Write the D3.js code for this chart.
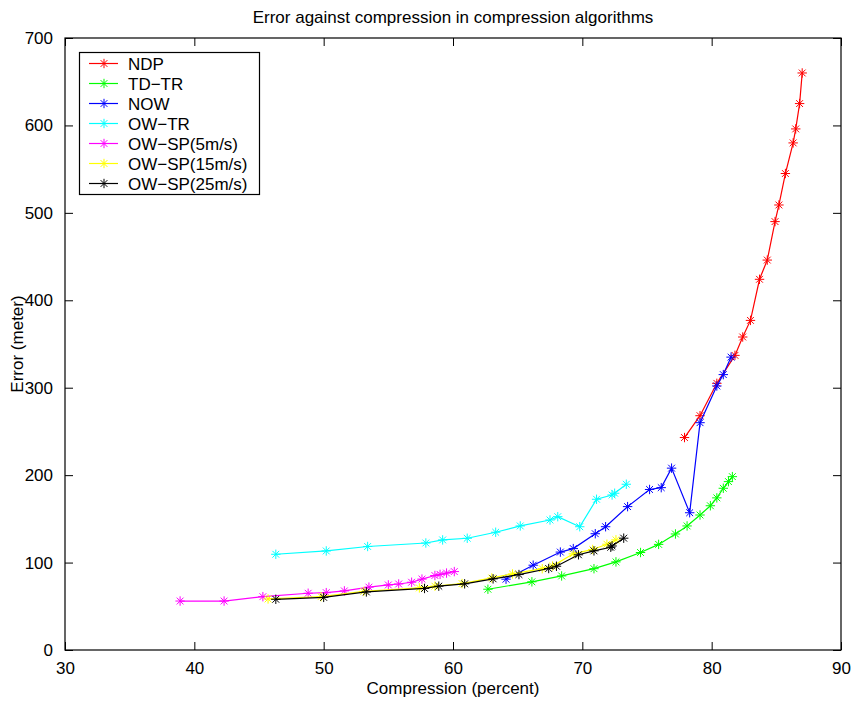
<!DOCTYPE html>
<html>
<head>
<meta charset="utf-8">
<script src="https://cdn.jsdelivr.net/npm/d3@7"></script>
<style>
  body { margin: 0; background: #fff; }
  svg { display: block; }
</style>
</head>
<body>
<div id="chart"></div>
<script>
// series: compression (%) vs error (m)
const ndpX = [77.9, 79.1, 80.4, 81.8, 82.4, 83.0, 83.7, 84.3, 84.9, 85.2, 85.7, 86.3, 86.5, 86.8, 87.0];
const ndpY = [243, 268, 305, 337, 358, 377, 424, 446, 490, 509, 545, 580, 596, 625, 660];

const tdtrX = [62.7, 66.1, 68.4, 70.9, 72.6, 74.5, 75.9, 77.2, 78.1, 79.1, 79.9, 80.4, 80.9, 81.3, 81.6];
const tdtrY = [69.5, 78, 84.7, 93, 100.8, 111.5, 120.8, 132.7, 141.9, 154.4, 165, 174, 185, 192.6, 198.3];

const nowX = [64.1, 66.2, 68.3, 69.3, 71.0, 71.8, 73.5, 75.2, 76.1, 76.9, 78.3, 79.1, 80.4, 80.9, 81.5];
const nowY = [81, 97, 112, 116, 133, 141, 164, 183.6, 185.7, 208, 157, 260, 302, 315, 335];

const owtrX = [46.3, 50.2, 53.4, 57.9, 59.2, 61.1, 63.3, 65.2, 67.5, 68.1, 69.8, 71.1, 72.3, 72.5, 73.4];
const owtrY = [109.5, 113.3, 118.4, 122.4, 125.9, 127.8, 134.7, 141.9, 148.7, 152.5, 141, 172.4, 177.3, 179.3, 189.6];

const sp5X = [38.9, 42.3, 45.3, 48.8, 50.2, 51.6, 53.5, 55.0, 55.8, 56.8, 57.6, 58.6, 59.0, 59.5, 60.1];
const sp5Y = [56, 56, 61, 64.9, 65.6, 67.6, 71.9, 74.4, 75.5, 77.5, 81.1, 85.2, 86.5, 88, 89.7];

const sp15X = [45.7, 49.8, 53.1, 57.4, 58.6, 60.7, 63.0, 64.6, 66.9, 67.7, 69.3, 70.8, 71.9, 72.6];
const sp15Y = [58.4, 61, 67, 71, 73, 76, 82.4, 87, 93, 96, 110, 115, 121, 126];

const sp25X = [46.3, 50.0, 53.3, 57.8, 58.9, 60.9, 63.1, 65.1, 67.4, 68.0, 69.7, 70.9, 72.2, 72.3, 73.2];
const sp25Y = [58, 60.2, 66.4, 70.4, 73, 75.7, 81.4, 86.3, 93.2, 95.8, 108.9, 113.4, 117.5, 119, 127.9];

const seriesNames = ["NDP", "TD\u2212TR", "NOW", "OW\u2212TR", "OW\u2212SP(5m/s)", "OW\u2212SP(15m/s)", "OW\u2212SP(25m/s)"];
const seriesColors = ["#ff0000", "#00ff00", "#0000ff", "#00ffff", "#ff00ff", "#ffff00", "#000000"];
const seriesX = [ndpX, tdtrX, nowX, owtrX, sp5X, sp15X, sp25X];
const seriesY = [ndpY, tdtrY, nowY, owtrY, sp5Y, sp15Y, sp25Y];

const xTicks = [30, 40, 50, 60, 70, 80, 90];
const yTicks = [0, 100, 200, 300, 400, 500, 600, 700];

const W = 854, H = 702;
const mLeft = 65, mRight = 841, mTop = 38, mBottom = 650;
const font = "'Liberation Sans', Arial, Helvetica, sans-serif";
const fs = "17px";

const x = d3.scaleLinear().domain([30, 90]).range([mLeft, mRight]);
const y = d3.scaleLinear().domain([0, 700]).range([mBottom, mTop]);

const svg = d3.select("#chart").append("svg")
    .attr("width", W)
    .attr("height", H)
    .style("font-family", font);

const star = "M-4.7,0H4.7M0,-4.7V4.7M-3.4,-3.4L3.4,3.4M-3.4,3.4L3.4,-3.4";

const line = d3.line().x(d => x(d[0])).y(d => y(d[1]));

const plot = svg.append("g");

seriesNames.forEach((name, i) => {
    const pts = seriesX[i].map((v, k) => [v, seriesY[i][k]]);
    const g = plot.append("g");
    g.append("path")
        .attr("d", line(pts))
        .attr("fill", "none")
        .attr("stroke", seriesColors[i])
        .attr("stroke-width", 1.2);
    g.selectAll("path.m")
        .data(pts)
        .join("path")
        .attr("class", "m")
        .attr("d", star)
        .attr("transform", d => `translate(${x(d[0])},${y(d[1])})`)
        .attr("fill", "none")
        .attr("stroke", seriesColors[i])
        .attr("stroke-width", 1);
});

// axes, MATLAB style: ticks pointing in, on all four sides
const tickLen = 8;
const axisBottom = d3.axisBottom(x).tickValues(xTicks).tickSizeInner(-tickLen).tickSizeOuter(0).tickPadding(12);
const axisTop = d3.axisTop(x).tickValues(xTicks).tickSizeInner(-tickLen).tickSizeOuter(0).tickFormat("");
const axisLeft = d3.axisLeft(y).tickValues(yTicks).tickSizeInner(-tickLen).tickSizeOuter(0).tickPadding(12);
const axisRight = d3.axisRight(y).tickValues(yTicks).tickSizeInner(-tickLen).tickSizeOuter(0).tickFormat("");

function styleAxis(g) {
    g.select(".domain").remove();
    g.selectAll(".tick line").attr("stroke", "#000").attr("stroke-width", 1);
    g.selectAll(".tick text").attr("fill", "#000").style("font-size", fs).style("font-family", font);
}

svg.append("g").attr("transform", `translate(0,${mBottom})`).call(axisBottom).call(styleAxis);
svg.append("g").attr("transform", `translate(0,${mTop})`).call(axisTop).call(styleAxis);
svg.append("g").attr("transform", `translate(${mLeft},0)`).call(axisLeft).call(styleAxis);
svg.append("g").attr("transform", `translate(${mRight},0)`).call(axisRight).call(styleAxis);

svg.append("rect")
    .attr("x", mLeft).attr("y", mTop)
    .attr("width", mRight - mLeft).attr("height", mBottom - mTop)
    .attr("fill", "none").attr("stroke", "#000").attr("stroke-width", 1.2);

// titles
svg.append("text")
    .attr("x", (mLeft + mRight) / 2).attr("y", 23)
    .attr("text-anchor", "middle")
    .style("font-size", fs)
    .text("Error against compression in compression algorithms");

svg.append("text")
    .attr("x", (mLeft + mRight) / 2).attr("y", 694)
    .attr("text-anchor", "middle")
    .style("font-size", fs)
    .text("Compression (percent)");

svg.append("text")
    .attr("transform", `translate(23,${(mTop + mBottom) / 2}) rotate(-90)`)
    .attr("text-anchor", "middle")
    .style("font-size", fs)
    .text("Error (meter)");

// legend
const lg = svg.append("g");
lg.append("rect")
    .attr("x", 79.5).attr("y", 52.5)
    .attr("width", 180).attr("height", 142)
    .attr("fill", "#fff").attr("stroke", "#000").attr("stroke-width", 1.2);

seriesNames.forEach((name, i) => {
    const ly = 63.5 + i * 20;
    lg.append("line")
        .attr("x1", 89).attr("x2", 118)
        .attr("y1", ly).attr("y2", ly)
        .attr("stroke", seriesColors[i]).attr("stroke-width", 1.2);
    lg.append("path")
        .attr("d", star)
        .attr("transform", `translate(104,${ly})`)
        .attr("fill", "none")
        .attr("stroke", seriesColors[i]);
    lg.append("text")
        .attr("x", 128).attr("y", ly)
        .attr("dy", "0.36em")
        .style("font-size", fs)
        .text(name);
});
</script>
</body>
</html>
